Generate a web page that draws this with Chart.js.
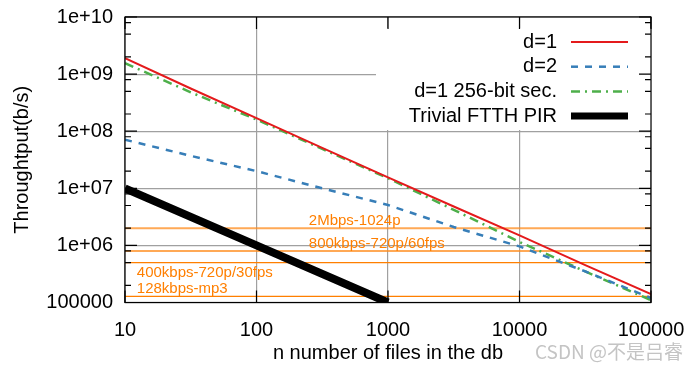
<!DOCTYPE html>
<html><head><meta charset="utf-8">
<script src="https://cdn.jsdelivr.net/npm/chart.js@4/dist/chart.umd.min.js"></script>
<style>
html,body{margin:0;padding:0;background:#fff;}
#wrap{position:relative;width:700px;height:370px;}
#wm{position:absolute;left:535px;top:338px;font:19px "Noto Sans CJK SC",sans-serif;color:#c4c4c4;white-space:nowrap;line-height:26px;}
</style>
</head><body>
<div id="wrap"><canvas id="c" width="700" height="370"></canvas><div id="wm">CSDN @不是吕睿</div></div>
<script>
// ---- data ----
const nFiles = [10, 31.6, 100, 316, 1000, 3162, 10000, 31623, 100000];
const d1 = [1.9e9, 5.6e8, 1.7e8, 5.1e7, 1.55e7, 4.8e6, 1.5e6, 4.5e5, 1.4e5];
const d2 = [7.1e7, 3.7e7, 2.0e7, 1.0e7, 5.1e6, 2.1e6, 9.6e5, 3.5e5, 1.2e5];
const d1sec = [1.55e9, 4.8e8, 1.6e8, 4.9e7, 1.5e7, 4.2e6, 1.15e6, 3.5e5, 1.1e5];
const trivialN = [10, 100, 1000];
const trivial = [1e7, 1e6, 1e5];
const rateLabels = ['2Mbps-1024p', '800kbps-720p/60fps', '400kbps-720p/30fps', '128kbps-mp3'];
const rateValues = [2e6, 8e5, 5e5, 1.28e5];
const seriesLabels = ['d=1', 'd=2', 'd=1 256-bit sec.', 'Trivial FTTH PIR'];
const xTicks = [10, 100, 1000, 10000, 100000];
const xTickLabels = ['10', '100', '1000', '10000', '100000'];
const yTicks = [1e5, 1e6, 1e7, 1e8, 1e9, 1e10];
const yTickLabels = ['100000', '1e+06', '1e+07', '1e+08', '1e+09', '1e+10'];
const yMinorMult = [2, 5, 8];
const xTitle = 'n number of files in the db';
const yTitle = 'Throughtput(b/s)';

// ---- styles ----
const FONT = '"Liberation Sans", Arial, sans-serif';
const C_RED = '#e41a1c', C_BLUE = '#377eb8', C_GREEN = '#4daf4a', C_BLACK = '#000';
const rateStyles = [
  {color: 'rgba(255,140,30,0.75)', width: 2},
  {color: 'rgba(255,140,30,0.75)', width: 2},
  {color: '#ff7f00', width: 1.3},
  {color: '#ff7f00', width: 1.3}
];
const rateLabelPos = [ // label anchor in data x, pixel offset from line
  {x: 250, dy: -7}, {x: 250, dy: -7}, {x: 12.3, dy: 10}, {x: 12.3, dy: -8}
];
const seriesStyles = [
  {color: C_RED, width: 2, dash: []},
  {color: C_BLUE, width: 2.5, dash: [7, 7]},
  {color: C_GREEN, width: 2.5, dash: [9, 5, 2, 5]},
  {color: C_BLACK, width: 8, dash: []}
];

const pts = (xs, ys) => xs.map((x, i) => ({x: x, y: ys[i]}));
const seriesData = [pts(nFiles, d1), pts(nFiles, d2), pts(nFiles, d1sec), pts(trivialN, trivial)];

const datasets = seriesData.map((d, i) => ({
  label: seriesLabels[i], data: d, showLine: true, pointRadius: 0,
  borderColor: seriesStyles[i].color, borderWidth: seriesStyles[i].width,
  borderDash: seriesStyles[i].dash, borderCapStyle: 'butt', fill: false, tension: 0
}));
rateValues.forEach((v, i) => {
  datasets.push({
    label: rateLabels[i], data: [{x: xTicks[0], y: v}, {x: xTicks[xTicks.length - 1], y: v}],
    showLine: true, pointRadius: 0, borderColor: rateStyles[i].color,
    borderWidth: rateStyles[i].width, fill: false
  });
});

const decorPlugin = {
  id: 'decor',
  beforeDatasetsDraw(chart) {
    const {ctx, chartArea: a} = chart;
    // legend box
    const bx = a.right - 275, by = a.top + 11, bw = 275, bh = 102;
    ctx.save();
    ctx.fillStyle = '#fff';
    ctx.fillRect(bx, by, bw, bh);
    ctx.font = '20px ' + FONT;
    ctx.textAlign = 'right';
    ctx.textBaseline = 'middle';
    ctx.fillStyle = '#000';
    seriesLabels.forEach((lab, i) => {
      const y = a.top + 25 + i * 24.7;
      ctx.fillText(lab, a.right - 94, y);
      const st = seriesStyles[i];
      ctx.beginPath();
      ctx.strokeStyle = st.color;
      ctx.lineWidth = i === 3 ? 7 : st.width;
      ctx.setLineDash(st.dash);
      ctx.lineCap = 'butt';
      ctx.moveTo(a.right - 80, y);
      ctx.lineTo(a.right - 23, y);
      ctx.stroke();
      ctx.setLineDash([]);
    });
    ctx.restore();
  },
  afterDatasetsDraw(chart) {
    const {ctx, chartArea: a, scales: {x, y}} = chart;
    ctx.save();
    // orange labels
    ctx.font = '15px ' + FONT;
    ctx.fillStyle = '#ff7f00';
    ctx.textAlign = 'left';
    ctx.textBaseline = 'middle';
    rateLabels.forEach((lab, i) => {
      ctx.fillText(lab, x.getPixelForValue(rateLabelPos[i].x), y.getPixelForValue(rateValues[i]) + rateLabelPos[i].dy);
    });
    // frame
    ctx.strokeStyle = '#000';
    ctx.lineWidth = 1.2;
    ctx.strokeRect(a.left, a.top, a.right - a.left, a.bottom - a.top);
    // y ticks (major + minor), both sides
    ctx.beginPath();
    yTicks.forEach(v => {
      const py = y.getPixelForValue(v);
      ctx.moveTo(a.left, py); ctx.lineTo(a.left + 12, py);
      ctx.moveTo(a.right, py); ctx.lineTo(a.right - 12, py);
      if (v < yTicks[yTicks.length - 1]) {
        yMinorMult.forEach(m => {
          const pm = y.getPixelForValue(v * m);
          ctx.moveTo(a.left, pm); ctx.lineTo(a.left + 6, pm);
          ctx.moveTo(a.right, pm); ctx.lineTo(a.right - 6, pm);
        });
      }
    });
    xTicks.forEach(v => {
      const px = x.getPixelForValue(v);
      ctx.moveTo(px, a.bottom); ctx.lineTo(px, a.bottom - 12);
      ctx.moveTo(px, a.top); ctx.lineTo(px, a.top + 12);
    });
    ctx.stroke();
    ctx.restore();
  }
};

const zeroPad = s => { s.paddingTop = 0; s.paddingBottom = 0; s.paddingLeft = 0; s.paddingRight = 0; };

new Chart(document.getElementById('c'), {
  type: 'scatter',
  data: {datasets: datasets},
  plugins: [decorPlugin],
  options: {
    responsive: false, animation: false, devicePixelRatio: 1,
    layout: {padding: {left: 0, right: 49, top: 17, bottom: 0}},
    plugins: {legend: {display: false}, tooltip: {enabled: false}},
    scales: {
      x: {
        type: 'logarithmic', min: 10, max: 100000, position: 'bottom',
        afterBuildTicks: s => { s.ticks = xTicks.map(v => ({value: v})); },
        afterFit: s => { s.height = 67.5; zeroPad(s); },
        ticks: {callback: v => xTickLabels[xTicks.indexOf(v)], font: {family: FONT, size: 20}, color: '#000', padding: 16, maxRotation: 0, autoSkip: false},
        grid: {color: '#a0a0a0', lineWidth: 1.2, drawTicks: false},
        border: {display: false},
        title: {display: true, text: xTitle, font: {family: FONT, size: 20}, color: '#000', padding: {top: 0, bottom: 5}}
      },
      y: {
        type: 'logarithmic', min: 1e5, max: 1e10, position: 'left',
        afterBuildTicks: s => { s.ticks = yTicks.map(v => ({value: v})); },
        afterFit: s => { s.width = 125; zeroPad(s); },
        ticks: {callback: v => yTickLabels[yTicks.indexOf(v)], font: {family: FONT, size: 20}, color: '#000', padding: 12, autoSkip: false},
        grid: {color: '#a0a0a0', lineWidth: 1.2, drawTicks: false},
        border: {display: false},
        title: {display: true, text: yTitle, font: {family: FONT, size: 20}, color: '#000', padding: {top: 10, bottom: 0}}
      }
    }
  }
});
</script>
</body></html>
